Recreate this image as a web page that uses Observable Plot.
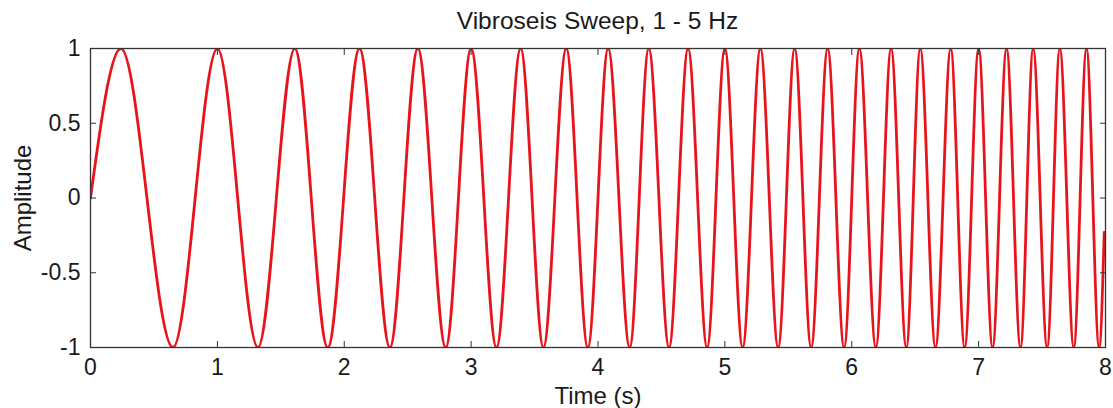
<!DOCTYPE html>
<html>
<head>
<meta charset="utf-8">
<script src="https://cdn.jsdelivr.net/npm/d3@7"></script>
<script src="https://cdn.jsdelivr.net/npm/@observablehq/plot@0.6"></script>
<style>
  html, body { margin: 0; padding: 0; background: #fff; }
  #wrap { position: relative; width: 1113px; height: 408px; font-family: "Liberation Sans", Arial, sans-serif; }
  #title { position: absolute; left: 90px; top: 0; width: 1015px; height: 42px; line-height: 42px; font-size: 24.5px; color: #1a1a1a; text-align: center; z-index: 2; }
</style>
</head>
<body>
<div id="wrap">
  <div id="chart"></div>
  <div id="title"></div>
</div>
<script>
const title = "Vibroseis Sweep, 1 - 5 Hz";
const xLabel = "Time (s)";
const yLabel = "Amplitude";
const xTicks = [0, 1, 2, 3, 4, 5, 6, 7, 8];
const yTicks = [-1, -0.5, 0, 0.5, 1];

// Sweep: start, alternating crests (+1) and troughs (-1), last sample
const peakTimes = [0.24, 1.00, 1.61, 2.12, 2.58, 3.00, 3.39, 3.75, 4.08, 4.40, 4.71, 5.00,
                   5.28, 5.55, 5.81, 6.06, 6.31, 6.54, 6.78, 7.00, 7.22, 7.43, 7.64, 7.85];
const troughTimes = [0.65, 1.32, 1.87, 2.36, 2.80, 3.20, 3.57, 3.92, 4.25, 4.56, 4.86, 5.14,
                     5.42, 5.68, 5.94, 6.19, 6.43, 6.66, 6.89, 7.11, 7.33, 7.54, 7.75, 7.95];
const startPoint = [0, 0];
const endPoint = [7.99, -0.23];

const pts = [{t: startPoint[0], a: startPoint[1]}];
for (let i = 0; i < peakTimes.length; i++) {
  pts.push({t: peakTimes[i], a: 1});
  pts.push({t: troughTimes[i], a: -1});
}
pts.push({t: endPoint[0], a: endPoint[1]});

document.getElementById("title").textContent = title;

const chart = Plot.plot({
  width: 1113,
  height: 408,
  marginLeft: 90,
  marginRight: 8,
  marginTop: 48,
  marginBottom: 61,
  style: {fontFamily: "'Liberation Sans', Arial, sans-serif", fontSize: "23px", color: "#1a1a1a", background: "#fff"},
  x: {domain: [0, 8]},
  y: {domain: [-1, 1]},
  marks: [
    Plot.line(pts, {x: "t", y: "a", stroke: "#e8141b", strokeWidth: 2.8, curve: "monotone-x", clip: true}),
    Plot.frame({stroke: "#333", strokeWidth: 1.3}),
    Plot.axisX({anchor: "bottom", ticks: xTicks, tickSize: -6, tickPadding: 17, tickFormat: d3.format("d"),
                label: null, fontSize: 23, stroke: "#333"}),
    Plot.axisX({anchor: "bottom", ticks: [], label: xLabel, labelAnchor: "center", labelArrow: "none", labelOffset: 56, fontSize: 24}),
    Plot.axisX({anchor: "top", ticks: xTicks, tickSize: -6, tickFormat: () => "", label: null, stroke: "#333"}),
    Plot.axisY({anchor: "left", ticks: yTicks, tickSize: -6, tickPadding: 16, tickFormat: d => String(d),
                label: null, fontSize: 23, stroke: "#333"}),
    Plot.axisY({anchor: "left", ticks: [], label: yLabel, labelAnchor: "center", labelArrow: "none", labelOffset: 77, fontSize: 24}),
    Plot.axisY({anchor: "right", ticks: yTicks, tickSize: -6, tickFormat: () => "", label: null, stroke: "#333"})
  ]
});
document.getElementById("chart").appendChild(chart);
</script>
</body>
</html>
